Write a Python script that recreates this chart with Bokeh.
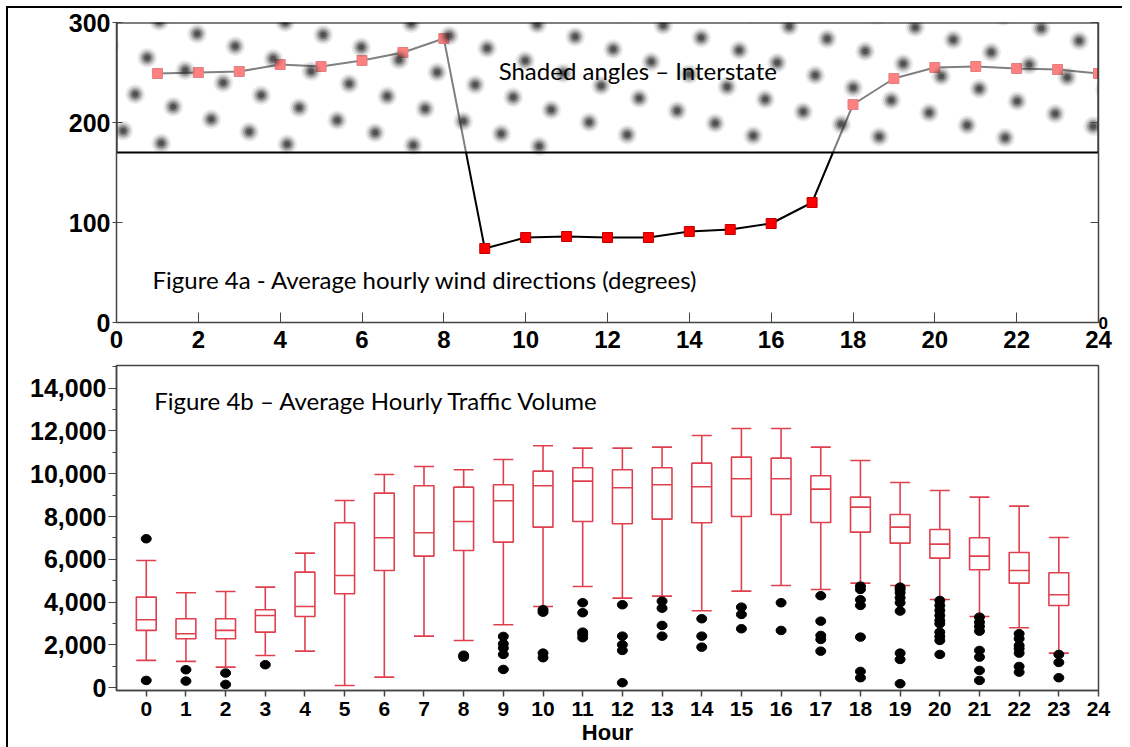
import numpy as np
from bokeh.plotting import figure
from bokeh.models import (Range1d, FixedTicker, LinearAxis, Label,
                          SingleIntervalTicker, NumeralTickFormatter)
from bokeh.layouts import column
from bokeh.embed import file_html
from bokeh.resources import INLINE

# ---------------- data: Figure 4a (wind direction) ----------------
WIND_HOURS = list(range(1, 25))
WIND_DIR = [249, 250, 251, 258, 256, 262, 270, 284, 74, 85, 86, 85,
            85, 91, 93, 99, 120, 218, 244, 255, 256, 254, 253, 249]
SHADE_LOW = 170
SHADE_HIGH = 300
HOUR_START = 0
HOUR_END = 24
TOP_XTICKS = list(range(0, 25, 2))
TOP_YTICKS = [0, 100, 200, 300]

# ---------------- data: Figure 4b (traffic volume) ----------------
HOURS = list(range(24))
UPPER = [5949, 4439, 4500, 4701, 6290, 8752, 9968, 10341, 10187, 10668, 11309, 11197,
         11197, 11243, 11790, 12117, 12117, 11243, 10622, 9594, 9220, 8907, 8486, 7024]
Q3 = [4235, 3224, 3224, 3645, 5402, 7710, 9094, 9439, 9374, 9486, 10122, 10280,
      10187, 10280, 10496, 10776, 10729, 9907, 8907, 8098, 7397, 7010, 6323, 5374]
MEDIAN = [3177, 2523, 2678, 3378, 3799, 5248, 7010, 7243, 7771, 8738, 9439, 9655,
          9346, 9486, 9393, 9767, 9767, 9281, 8439, 7505, 6711, 6150, 5481, 4346]
Q1 = [2678, 2290, 2290, 2598, 3332, 4393, 5481, 6150, 6416, 6804, 7505, 7771,
      7664, 7879, 7710, 8005, 8098, 7724, 7271, 6757, 6056, 5514, 4888, 3846]
LOWER = [1276, 1229, 963, 1509, 1710, 107, 495, 2411, 2210, 2944, 3799, 4734,
         4187, 4281, 3598, 4514, 4780, 4594, 4888, 4780, 4126, 3332, 2804, 1617]
OUTLIERS = {
    0: [6962, 341], 1: [841, 310], 2: [684, 154], 3: [1075],
    8: [1520, 1430], 9: [2397, 2056, 1851, 1556, 855],
    10: [3645, 3533, 1617, 1402], 11: [3972, 3505, 2598, 2491, 2337],
    12: [3879, 2411, 2009, 1743, 234], 13: [4047, 3720, 2911, 2411],
    14: [3224, 2411, 1897], 15: [3766, 3425, 2757], 16: [3972, 2678],
    17: [4299, 3112, 2444, 2257, 1710],
    18: [4748, 4594, 4112, 3846, 2365, 762, 467],
    19: [4700, 4594, 4439, 4205, 3972, 3583, 1617, 1322, 187],
    20: [4080, 3846, 3612, 3378, 3145, 2991, 2598, 2397, 2210, 1556],
    21: [3299, 3066, 2865, 2645, 1743, 1430, 808, 341],
    22: [2523, 2290, 1977, 1822, 1617, 995, 729],
    23: [1556, 1182, 467],
}
OUT_HOUR = [h for h, vals in OUTLIERS.items() for _ in vals]
OUT_VAL = [v for vals in OUTLIERS.values() for v in vals]
BOT_XTICKS = list(range(0, 25))

TICK_FONT = "Liberation Sans"
TEXT_FONT = "Lato"
RED = "#e0404e"
AXIS_COL = "#444444"

# ---------------- top figure ----------------
FRAME_W, FRAME_H = 982, 300          # frame size in px
p1 = figure(width=1114, height=350, x_range=Range1d(HOUR_START, HOUR_END),
            y_range=Range1d(0, 300), output_backend="svg", toolbar_location=None,
            min_border_left=108, min_border_right=24, min_border_top=14,
            min_border_bottom=36, background_fill_color="white",
            border_fill_color="white")
p1.grid.visible = False
p1.outline_line_color = None

p1.line(WIND_HOURS, WIND_DIR, line_color="black", line_width=2)
p1.scatter(WIND_HOURS, WIND_DIR, marker="square", size=10,
           fill_color="#ff0000", line_color="#c00000", line_width=1)

# translucent white wash over the shaded band
p1.quad(left=[HOUR_START], right=[HOUR_END], bottom=[SHADE_LOW], top=[SHADE_HIGH],
        fill_color="white", fill_alpha=0.5, line_color=None)

# decorative soft-dot texture for the shaded band (a regular lattice, not data)
px_hr = FRAME_W / (HOUR_END - HOUR_START)
px_deg = FRAME_H / 300.0
band_px = (SHADE_HIGH - SHADE_LOW) * px_deg
va, vb = np.array([38.0, 12.5]), np.array([-12.0, 36.5])
base = np.array([80.7, 11.3])
ii, jj = np.meshgrid(np.arange(-45, 46), np.arange(-45, 46))
lat = base + ii.reshape(-1, 1) * va + jj.reshape(-1, 1) * vb
keep = ((lat[:, 0] > -10) & (lat[:, 0] < FRAME_W + 10) &
        (lat[:, 1] > -10) & (lat[:, 1] < band_px - 6))
lat = lat[keep]
tex_x = lat[:, 0] / px_hr + HOUR_START
tex_y = SHADE_HIGH - lat[:, 1] / px_deg
for sz, al in [(20, 0.09), (16, 0.15), (12.5, 0.24), (9, 0.35), (5.5, 0.5)]:
    p1.scatter(tex_x, tex_y, marker="circle", size=sz, fill_color="#2a2a2a",
               fill_alpha=al, line_color=None)

# band outline
p1.quad(left=[HOUR_START], right=[HOUR_END], bottom=[SHADE_LOW], top=[SHADE_HIGH],
        fill_color=None, line_color="black", line_width=2)

p1.add_layout(Label(x=9.34, y=252, text="Shaded angles \u2013 Interstate",
                    text_font=TEXT_FONT, text_font_size="24px", text_color="black",
                    text_baseline="middle", text_align="left"))
p1.add_layout(Label(x=0.88, y=43,
                    text="Figure 4a - Average hourly wind directions (degrees)",
                    text_font=TEXT_FONT, text_font_size="24px", text_color="black",
                    text_baseline="middle", text_align="left"))

xa = p1.xaxis[0]
xa.ticker = FixedTicker(ticks=TOP_XTICKS)
xa.minor_tick_line_color = None
xa.major_tick_in = 10
xa.major_tick_out = 0
xa.major_label_standoff = 8
xa.axis_line_color = AXIS_COL
xa.axis_line_width = 1.5
xa.major_tick_line_color = AXIS_COL
xa.major_label_text_font = TICK_FONT
xa.major_label_text_font_style = "bold"
xa.major_label_text_font_size = "24px"
xa.major_label_text_color = "black"

ya = p1.yaxis[0]
ya.ticker = FixedTicker(ticks=TOP_YTICKS)
ya.minor_tick_line_color = None
ya.major_tick_in = 6
ya.major_tick_out = 4
ya.major_label_standoff = 2
ya.axis_line_color = AXIS_COL
ya.axis_line_width = 1.5
ya.major_tick_line_color = AXIS_COL
ya.major_label_text_font = TICK_FONT
ya.major_label_text_font_style = "bold"
ya.major_label_text_font_size = "25px"
ya.major_label_text_color = "black"

ra = LinearAxis(ticker=FixedTicker(ticks=TOP_YTICKS),
                major_label_overrides={100: "", 200: "", 300: ""})
ra.minor_tick_line_color = None
ra.major_tick_in = 8
ra.major_tick_out = 0
ra.major_label_standoff = 0
ra.axis_line_color = AXIS_COL
ra.axis_line_width = 1.5
ra.major_tick_line_color = AXIS_COL
ra.major_label_text_font = TICK_FONT
ra.major_label_text_font_style = "bold"
ra.major_label_text_font_size = "17px"
ra.major_label_text_color = "black"
p1.add_layout(ra, "right")

# ---------------- bottom figure ----------------
p2 = figure(width=1114, height=389, x_range=Range1d(-0.75, 24),
            y_range=Range1d(-130, 15060), output_backend="svg",
            toolbar_location=None, min_border_left=106, min_border_right=20,
            min_border_top=7, min_border_bottom=57,
            background_fill_color="white", border_fill_color="white")
p2.grid.visible = False
p2.outline_line_color = AXIS_COL
p2.outline_line_width = 1.5

p2.segment(HOURS, Q3, HOURS, UPPER, line_color=RED, line_width=1.6)
p2.segment(HOURS, Q1, HOURS, LOWER, line_color=RED, line_width=1.6)
p2.vbar(x=HOURS, width=0.5, bottom=Q1, top=Q3, fill_color="white",
        line_color=RED, line_width=1.6)
p2.scatter(HOURS, MEDIAN, marker="dash", size=20, line_color=RED, line_width=1.6)
p2.scatter(HOURS, UPPER, marker="dash", size=20, line_color=RED, line_width=1.6)
p2.scatter(HOURS, LOWER, marker="dash", size=20, line_color=RED, line_width=1.6)
p2.ellipse(x=OUT_HOUR, y=OUT_VAL, width=10, height=8.5, width_units="screen",
           height_units="screen", fill_color="black", line_color="black")

p2.add_layout(Label(x=0.2, y=13426,
                    text="Figure 4b \u2013 Average Hourly Traffic Volume",
                    text_font=TEXT_FONT, text_font_size="24px", text_color="black",
                    text_baseline="middle", text_align="left"))

bx = p2.xaxis[0]
bx.ticker = FixedTicker(ticks=BOT_XTICKS)
bx.minor_tick_line_color = None
bx.major_tick_in = 0
bx.major_tick_out = 6
bx.major_label_standoff = 5
bx.axis_line_color = AXIS_COL
bx.axis_line_width = 1.5
bx.major_tick_line_color = AXIS_COL
bx.major_tick_line_width = 1.5
bx.major_label_text_font = TICK_FONT
bx.major_label_text_font_style = "bold"
bx.major_label_text_font_size = "21px"
bx.major_label_text_color = "black"
bx.axis_label = "Hour"
bx.axis_label_standoff = 1
bx.axis_label_text_font = TICK_FONT
bx.axis_label_text_font_style = "bold"
bx.axis_label_text_font_size = "22px"
bx.axis_label_text_color = "black"

by = p2.yaxis[0]
by.ticker = SingleIntervalTicker(interval=2000, num_minor_ticks=2)
by.formatter = NumeralTickFormatter(format="0,0")
by.major_tick_in = 0
by.major_tick_out = 8
by.minor_tick_in = 0
by.minor_tick_out = 4
by.major_label_standoff = 2
by.axis_line_color = AXIS_COL
by.axis_line_width = 1.5
by.major_tick_line_color = AXIS_COL
by.minor_tick_line_color = AXIS_COL
by.major_label_text_font = TICK_FONT
by.major_label_text_font_style = "bold"
by.major_label_text_font_size = "25px"
by.major_label_text_color = "black"

layout = column(p1, p2, styles={"border-left": "2px solid black",
                                "border-top": "2px solid black",
                                "margin-left": "6px", "margin-top": "6px"})

open("out.html", "w").write(file_html(layout, INLINE))
